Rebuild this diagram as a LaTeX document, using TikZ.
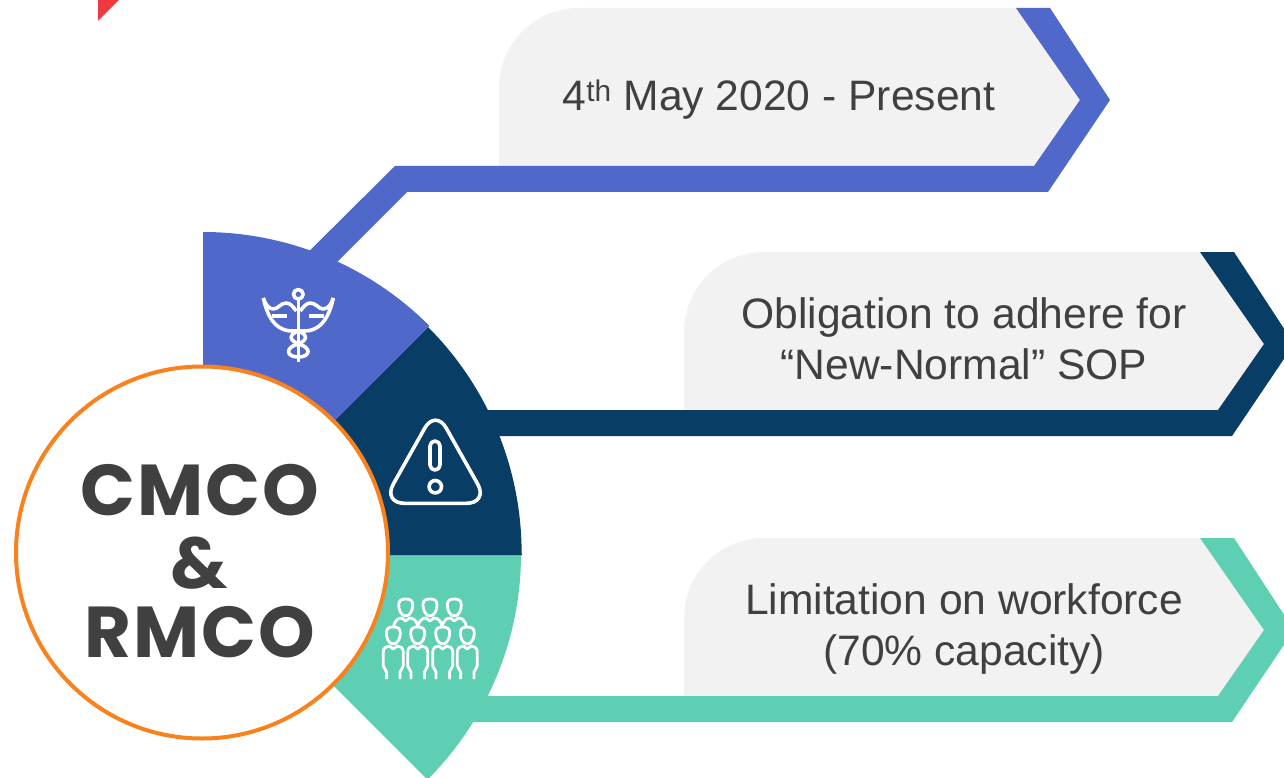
\documentclass[tikz,border=0pt]{standalone}
\usepackage{fontspec}
\setmainfont{Liberation Sans}
\newfontfamily\titlefont[LetterSpace=3]{Poppins}
\definecolor{cblue}{HTML}{5068C9}
\definecolor{cnavy}{HTML}{083D66}
\definecolor{cgreen}{HTML}{5ECFB2}
\definecolor{cgray}{HTML}{F2F2F2}
\definecolor{corange}{HTML}{FA821E}
\definecolor{ctext}{HTML}{404040}
\definecolor{cred}{HTML}{EE3A3E}
\tikzset{
  bodytext/.style={text=ctext,align=center,font=\fontsize{42.6}{51}\selectfont,inner sep=0pt},
  titletext/.style={text=ctext,align=center,font=\titlefont\bfseries\fontsize{72}{72}\selectfont,inner sep=0pt},
  iconline/.style={draw=white,line width=3.6pt,line join=round,fill=none},
  thinicon/.style={draw=white,line width=2.8pt,line join=round,line cap=butt,fill=none},
}
\begin{document}
\begin{tikzpicture}[x=1pt,y=-1pt]
\clip (0,0) rectangle (1284,778);
\fill[white] (0,0) rectangle (1284,778);
% red corner
\fill[cred] (98,0) -- (119,0) -- (98,21) -- cycle;
% grey panels
\fill[cgray] (499,170) -- (499,88) arc[start angle=180,end angle=270,radius=80] -- (1020,8) -- (1084,100) -- (1034,170) -- cycle;
\fill[cgray] (684,414) -- (684,332) arc[start angle=180,end angle=270,radius=80] -- (1204,252) -- (1268,344) -- (1218,414) -- cycle;
\fill[cgray] (684,700) -- (684,618) arc[start angle=180,end angle=270,radius=80] -- (1204,538) -- (1268,630) -- (1218,700) -- cycle;
% bands
\fill[cblue] (1016,8) -- (1050,8) -- (1110,100) -- (1048,192) -- (407,192) -- (300,299) -- (270,290) -- (395,166) -- (1034,166) -- (1080,100) -- cycle;
\fill[cnavy] (1200,252) -- (1234,252) -- (1294,344) -- (1232,436) -- (450,436) -- (450,410) -- (1218,410) -- (1264,344) -- cycle;
\fill[cgreen] (1200,538) -- (1234,538) -- (1294,630) -- (1232,722) -- (440,722) -- (440,696) -- (1218,696) -- (1264,630) -- cycle;
% sectors
\fill[cgreen] (202,554) -- (521,554) arc[start angle=0,end angle=45,radius=319] -- cycle;
\fill[cnavy] (202,555) -- (202,553) -- (428,327) arc[start angle=-45,end angle=0,radius=319.6] -- (522,555) -- cycle;
\fill[cblue] (203,553) -- (203,232) arc[start angle=-90,end angle=-45,radius=320] -- cycle;
% caduceus
\begin{scope}[shift={(298.3,0)}]
  \draw[iconline] (0,294.3) circle[radius=4.8];
  \draw[iconline,line cap=butt] (0,299) -- (0,361.5);
  \foreach \s in {-1,1}{
    \begin{scope}[xscale=\s]
      \draw[iconline] (-35,298) .. controls (-33,305) and (-29,309) .. (-25,309) .. controls (-20,309) and (-18,303) .. (-12,303) .. controls (-8,303) and (-5,307) .. (-2,311);
      \draw[iconline] (-35,298) .. controls (-33,306) and (-28,331) .. (-6,331) -- (0,331);
      \draw[iconline] (-26,316) -- (-11,316);
    \end{scope}
    \draw[iconline] (0,331) .. controls (\s*10,335) and (\s*9,340) .. (0,344) .. controls (\s*-13,347) and (\s*-13,357) .. (0,357);
  }
\end{scope}
% warning
\draw[iconline,rounded corners=22pt] (435.5,409) -- (488.5,503.3) -- (382.5,503.3) -- cycle;
\draw[iconline] (430,446) arc[start angle=180,end angle=360,radius=5] -- (440,465) arc[start angle=0,end angle=180,radius=5] -- cycle;
\draw[iconline] (435.3,486.7) circle[radius=6.2];
% people
\foreach \cx in {405.7,430,454.3}{
  \begin{scope}[shift={(\cx,0)}]
    \draw[thinicon] (0,616) .. controls (-5,616) and (-7,609) .. (-7,605) .. controls (-7,600) and (-4,599) .. (0,599) .. controls (4,599) and (7,600) .. (7,605) .. controls (7,609) and (5,616) .. (0,616);
    \draw[thinicon] (-12,626) .. controls (-11,621) and (-8,618) .. (-4,618) -- (0,621) -- (4,618) .. controls (8,618) and (11,621) .. (12,626);
  \end{scope}
}
\foreach \cx in {393.3,417.7,442.7,467.3}{
  \begin{scope}[shift={(\cx,0)}]
    \draw[thinicon] (0,644) .. controls (-5,644) and (-7,637) .. (-7,633) .. controls (-7,628) and (-4,627) .. (0,627) .. controls (4,627) and (7,628) .. (7,633) .. controls (7,637) and (5,644) .. (0,644);
    \draw[thinicon] (-6.7,679) -- (-6.7,672) -- (-10,666) -- (-10,652) .. controls (-10,648) and (-7,646) .. (-4,646) -- (0,649) -- (4,646) .. controls (7,646) and (10,648) .. (10,652) -- (10,666) -- (6.7,672) -- (6.7,679);
  \end{scope}
}
% main circle
\node[circle,draw=corange,fill=white,line width=4pt,minimum size=372pt,inner sep=0pt] (hub) at (202,552.5) {};
\node[titletext] (cmco) at (199.5,490) {CMCO};
\node[titletext] (amp) at (199.5,563) {\&};
\node[titletext] (rmco) at (200,632) {RMCO};
% panel text
\node[bodytext] (t1) at (779,100) {4\textsuperscript{th} May 2020 - Present};
\node[bodytext] (t2) at (964,339) {Obligation to adhere for\\“New-Normal” SOP};
\node[bodytext] (t3) at (964,629) {Limitation on workforce\\(70\% capacity)};
\end{tikzpicture}
\end{document}
